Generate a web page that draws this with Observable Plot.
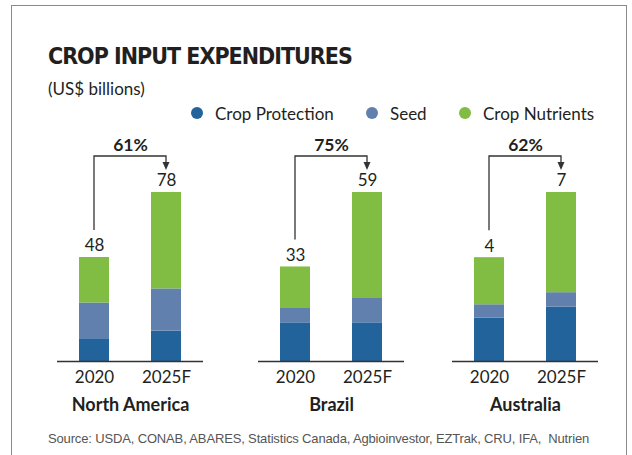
<!DOCTYPE html>
<html>
<head>
<meta charset="utf-8">
<script src="https://cdn.jsdelivr.net/npm/d3@7"></script>
<script src="https://cdn.jsdelivr.net/npm/@observablehq/plot@0.6"></script>
<style>
  html, body { margin: 0; padding: 0; background: #fff; }
  #wrap { position: relative; width: 632px; height: 455px; overflow: hidden; font-family: Lato, "Liberation Sans", sans-serif; color: #231f20; }
  #frame { position: absolute; left: 11px; top: 5px; width: 616px; height: 480px; border: 1.5px solid #8a8a8a; box-sizing: border-box; }
  .abs { position: absolute; white-space: nowrap; line-height: 1; }
  #title { left: 48px; top: 45px; font-family: "Liberation Sans Narrow", "DejaVu Sans Condensed", sans-serif; font-weight: 700; font-size: 23px; letter-spacing: -1px; }
  #subtitle { left: 48px; top: 80px; font-size: 17px; }
  .leg { position: absolute; top: 103px; height: 20px; display: flex; align-items: center; font-size: 17px; white-space: nowrap; }
  .leg i { display: inline-block; width: 12px; height: 12px; border-radius: 50%; margin-right: 12px; }
  #source { left: 48px; top: 432px; font-family: "Liberation Sans Narrow", "Liberation Sans", sans-serif; font-size: 13px; letter-spacing: -0.15px; color: #555; }
  .panel { position: absolute; top: 130px; }
</style>
</head>
<body>
<div id="wrap">
  <div id="frame"></div>
  <div id="title" class="abs">CROP INPUT EXPENDITURES</div>
  <div id="subtitle" class="abs">(US$ billions)</div>
  <div id="legend"></div>
  <div id="source" class="abs">Source: USDA, CONAB, ABARES, Statistics Canada, Agbioinvestor, EZTrak, CRU, IFA,&nbsp; Nutrien</div>
</div>
<script>
// ---- data ----
const regions = ["North America", "Brazil", "Australia"];
const years = ["2020", "2025F"];
const types = ["Crop Protection", "Seed", "Crop Nutrients"];
// values in region/year order: NA 2020, NA 2025F, BR 2020, BR 2025F, AU 2020, AU 2025F
const cropProtection = [10.5, 14, 13.5, 13.5, 1.8, 2.25];
const seed = [16.5, 19.5, 5, 8.5, 0.55, 0.6];
const cropNutrients = [21, 44.5, 14.5, 37, 1.95, 4.15];
const totalLabels = ["48", "78", "33", "59", "4", "7"];
const growthLabels = ["61%", "75%", "62%"];
const colors = ["#23639b", "#6180ad", "#80bd42"];

// ---- legend ----
const legendPos = [191, 366, 459];
const legend = document.getElementById("legend");
types.forEach((t, i) => {
  const d = document.createElement("div");
  d.className = "leg";
  d.style.left = legendPos[i] + "px";
  d.innerHTML = `<i style="background:${colors[i]}"></i>${t}`;
  legend.appendChild(d);
});

// ---- panels ----
const seriesArrays = [cropProtection, seed, cropNutrients];
const panelLefts = [30, 231, 425];
const wrap = document.getElementById("wrap");

regions.forEach((region, r) => {
  const rows = [];
  const totals = [];
  years.forEach((year, k) => {
    const idx = r * 2 + k;
    let sum = 0;
    types.forEach((type, s) => {
      rows.push({year, type, value: seriesArrays[s][idx]});
      sum += seriesArrays[s][idx];
    });
    totals.push({year, total: sum, label: totalLabels[idx]});
  });
  const ymax = d3.max(totals, d => d.total);
  const ann = {from: years[0], to: years[1], v0: totals[0].total, v1: totals[1].total};

  const arrowMark = (index, scales) => {
    const {x, y} = scales;
    const off = x.bandwidth ? x.bandwidth() / 2 : 0;
    const xa = x(ann.from) + off, xb = x(ann.to) + off;
    const ya = y(ann.v0) - 27, yt = y(ann.v1) - 36, ytip = y(ann.v1) - 22;
    const g = d3.create("svg:g");
    g.append("path")
      .attr("d", `M${xa},${ya}V${yt}H${xb}V${ytip - 6}`)
      .attr("fill", "none").attr("stroke", "#333").attr("stroke-width", 1.3);
    g.append("path")
      .attr("d", `M${xb - 3.5},${ytip - 8}L${xb + 3.5},${ytip - 8}L${xb},${ytip}Z`)
      .attr("fill", "#333");
    return g.node();
  };

  const chart = Plot.plot({
    width: 200,
    height: 286,
    marginLeft: 27,
    marginRight: 27,
    marginTop: 62,
    marginBottom: 55,
    style: {fontFamily: "Lato, 'Liberation Sans', sans-serif", color: "#231f20", background: "transparent", overflow: "visible"},
    x: {domain: years, paddingInner: 0.589, paddingOuter: 0.295, label: null},
    y: {domain: [0, ymax], axis: null},
    color: {domain: types, range: colors},
    marks: [
      Plot.barY(rows, {x: "year", y: "value", fill: "type", order: types}),
      Plot.ruleY([0], {stroke: "#333", strokeWidth: 1.5}),
      Plot.axisX({tickSize: 0, tickPadding: 9, fontSize: 17, fill: "#231f20", label: null}),
      Plot.text(totals, {x: "year", y: "total", text: "label", dy: -11.5, fontSize: 17, fill: "#231f20", lineAnchor: "middle"}),
      Plot.text([growthLabels[r]], {frameAnchor: "top", text: d => d, dy: -47, fontSize: 17.5, fontWeight: 700, fill: "#231f20", lineAnchor: "middle"}),
      Plot.text([region], {frameAnchor: "bottom", text: d => d, dy: 43.5, fontSize: 18, fontWeight: 700, fill: "#231f20", lineAnchor: "middle"}),
      arrowMark
    ]
  });
  const holder = document.createElement("div");
  holder.className = "panel";
  holder.style.left = panelLefts[r] + "px";
  holder.appendChild(chart);
  wrap.appendChild(holder);
});
</script>
</body>
</html>
